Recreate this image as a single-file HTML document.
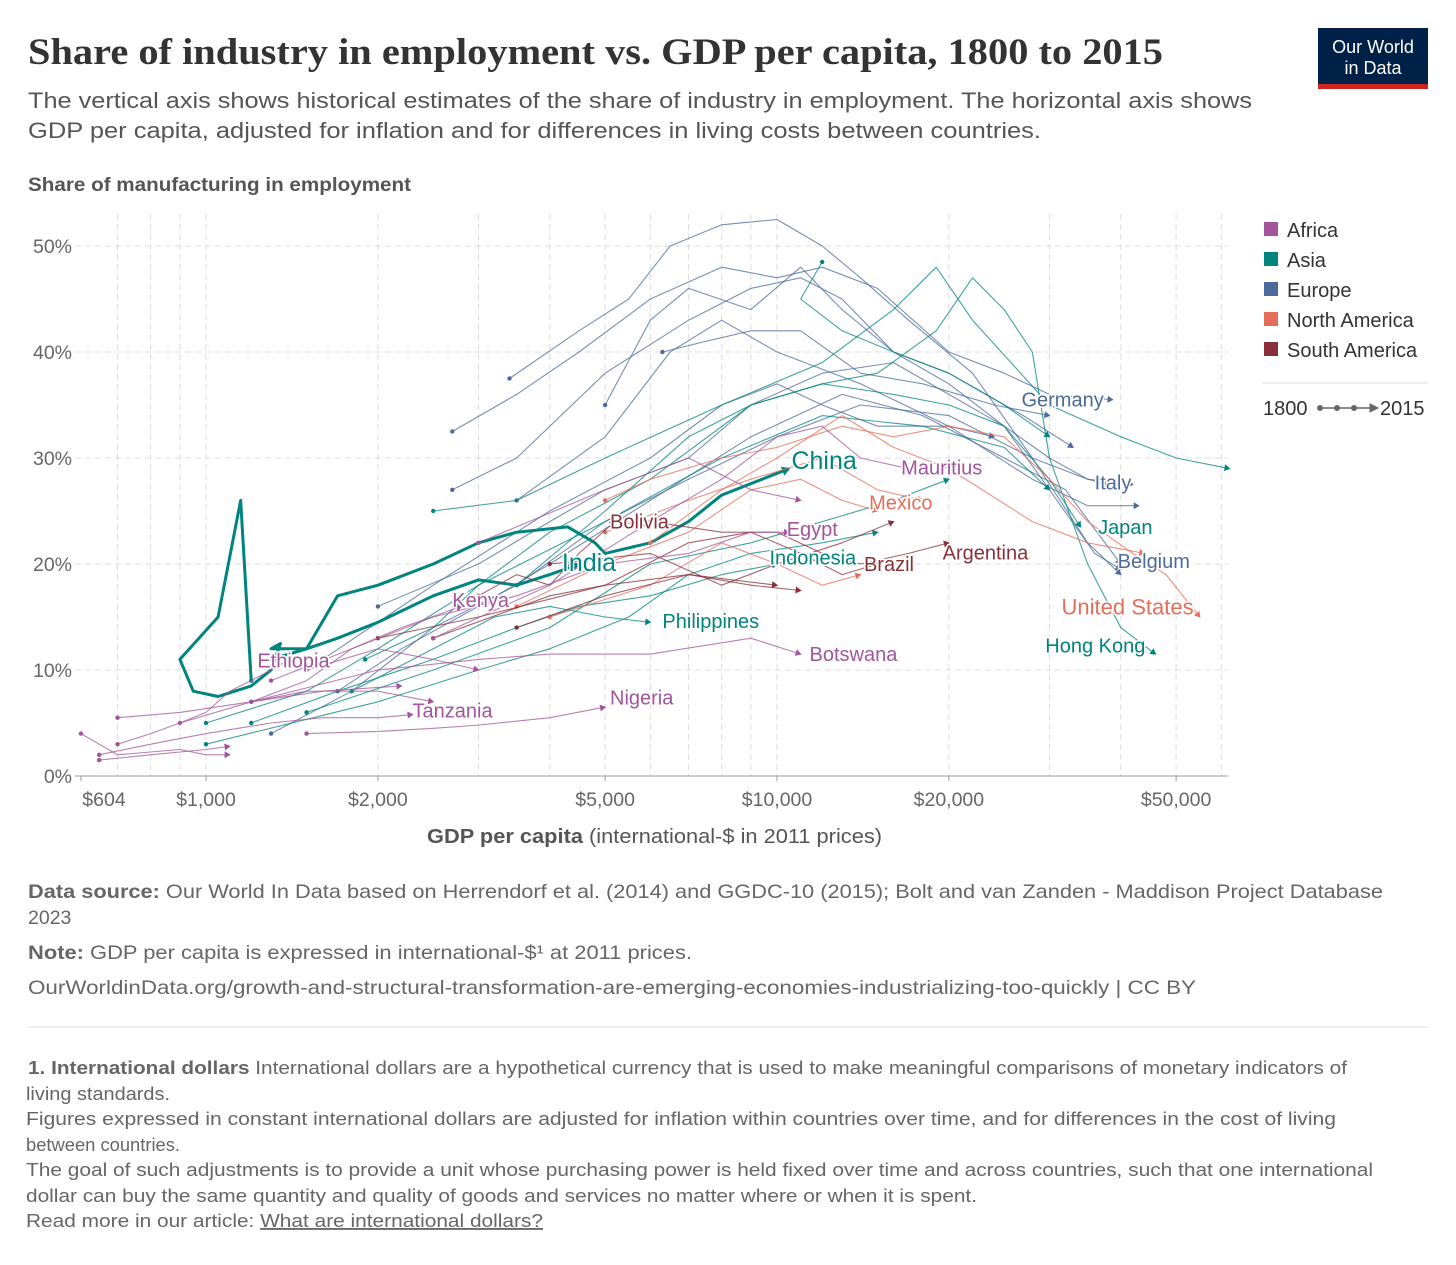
<!DOCTYPE html>
<html><head><meta charset="utf-8">
<style>
body{margin:0;background:#fff;}
svg text{font-family:"Liberation Sans",sans-serif;}
</style></head>
<body>
<svg id="chart" width="1456" height="1260" xmlns="http://www.w3.org/2000/svg">
<text x="28" y="64" font-weight="bold" font-size="37" fill="#333" textLength="1135" lengthAdjust="spacingAndGlyphs" style="font-family:'Liberation Serif',serif">Share of industry in employment vs. GDP per capita, 1800 to 2015</text>
<text x="28" y="108" font-size="22" fill="#555" textLength="1224" lengthAdjust="spacingAndGlyphs">The vertical axis shows historical estimates of the share of industry in employment. The horizontal axis shows</text>
<text x="28" y="138" font-size="22" fill="#555" textLength="1013" lengthAdjust="spacingAndGlyphs">GDP per capita, adjusted for inflation and for differences in living costs between countries.</text>
<g>
<rect x="1318" y="28" width="110" height="61" fill="#002147"/>
<rect x="1318" y="84" width="110" height="5" fill="#ce261e"/>
<text x="1373" y="53" font-size="18" fill="#fff" text-anchor="middle">Our World</text>
<text x="1373" y="74" font-size="18" fill="#fff" text-anchor="middle">in Data</text>
</g>
<text x="28" y="191" font-size="19" font-weight="bold" fill="#555" textLength="383" lengthAdjust="spacingAndGlyphs">Share of manufacturing in employment</text>
<g id="grid"></g>
<g id="series"></g>
<g id="labels"></g>
<g>
<rect x="1264" y="222" width="14" height="14" fill="#a2559c"/><text x="1287" y="237" font-size="20" fill="#333">Africa</text>
<rect x="1264" y="252" width="14" height="14" fill="#00847e"/><text x="1287" y="267" font-size="20" fill="#333">Asia</text>
<rect x="1264" y="282" width="14" height="14" fill="#4c6a9c"/><text x="1287" y="297" font-size="20" fill="#333">Europe</text>
<rect x="1264" y="312" width="14" height="14" fill="#e56e5a"/><text x="1287" y="327" font-size="20" fill="#333">North America</text>
<rect x="1264" y="342" width="14" height="14" fill="#883039"/><text x="1287" y="357" font-size="20" fill="#333">South America</text>
<line x1="1262" y1="383" x2="1428" y2="383" stroke="#ddd"/>
<text x="1263" y="415" font-size="20" fill="#333">1800</text>
<g stroke="#666" fill="#666">
<line x1="1318" y1="408" x2="1372" y2="408" stroke-width="1.5"/>
<circle cx="1320" cy="408" r="2.5"/><circle cx="1337" cy="408" r="2.5"/><circle cx="1354" cy="408" r="2.5"/>
<path d="M1370,404 L1378,408 L1370,412 Z"/>
</g>
<text x="1380" y="415" font-size="20" fill="#333">2015</text>
</g>
<text x="427" y="843" font-size="20" fill="#555" textLength="455" lengthAdjust="spacingAndGlyphs"><tspan font-weight="bold">GDP per capita</tspan> (international-$ in 2011 prices)</text>
<g font-size="19.5" fill="#666">
<text x="28" y="898" textLength="1355" lengthAdjust="spacingAndGlyphs"><tspan font-weight="bold">Data source:</tspan> Our World In Data based on Herrendorf et al. (2014) and GGDC-10 (2015); Bolt and van Zanden - Maddison Project Database</text>
<text x="28" y="924">2023</text>
<text x="28" y="959" textLength="664" lengthAdjust="spacingAndGlyphs"><tspan font-weight="bold">Note:</tspan> GDP per capita is expressed in international-$¹ at 2011 prices.</text>
<text x="28" y="994" textLength="1168" lengthAdjust="spacingAndGlyphs">OurWorldinData.org/growth-and-structural-transformation-are-emerging-economies-industrializing-too-quickly | CC BY</text>
</g>
<line x1="28" y1="1027" x2="1428" y2="1027" stroke="#ddd"/>
<g font-size="18.5" fill="#666">
<text x="28" y="1074" textLength="1319" lengthAdjust="spacingAndGlyphs"><tspan font-weight="bold">1. International dollars</tspan> International dollars are a hypothetical currency that is used to make meaningful comparisons of monetary indicators of</text>
<text x="26" y="1100" textLength="144" lengthAdjust="spacingAndGlyphs">living standards.</text>
<text x="26" y="1125" textLength="1310" lengthAdjust="spacingAndGlyphs">Figures expressed in constant international dollars are adjusted for inflation within countries over time, and for differences in the cost of living</text>
<text x="26" y="1151" textLength="154" lengthAdjust="spacingAndGlyphs">between countries.</text>
<text x="26" y="1176" textLength="1347" lengthAdjust="spacingAndGlyphs">The goal of such adjustments is to provide a unit whose purchasing power is held fixed over time and across countries, such that one international</text>
<text x="26" y="1202" textLength="951" lengthAdjust="spacingAndGlyphs">dollar can buy the same quantity and quality of goods and services no matter where or when it is spent.</text>
<text x="26" y="1227" textLength="517" lengthAdjust="spacingAndGlyphs">Read more in our article: <tspan text-decoration="underline">What are international dollars?</tspan></text>
</g>
</svg>
<script>
const xTicks=[604,1000,2000,5000,10000,20000,50000];
const xTickLabels=["$604","$1,000","$2,000","$5,000","$10,000","$20,000","$50,000"];
const xGrid=[700,800,900,1000,2000,3000,4000,5000,6000,7000,8000,9000,10000,20000,30000,40000,50000,60000];
const yTicks=[0,10,20,30,40,50];
const colors={Africa:"#a2559c",Asia:"#00847e",Europe:"#4c6a9c",NorthAmerica:"#e56e5a",SouthAmerica:"#883039"};
const seriesNames=["Germany","UK","Belgium","Italy","France","Spain","Sweden","Netherlands","Hungary","Denmark",
"Japan","Hong Kong","Singapore","Korea","Malaysia","China","India","Indonesia","Philippines","Thailand","Taiwan",
"United States","Mexico","Canada","Costa Rica","Puerto Rico",
"Argentina","Brazil","Bolivia","Chile","Colombia","Venezuela",
"Ethiopia","Tanzania","Nigeria","Kenya","Botswana","Mauritius","Egypt","South Africa","Ghana","Senegal","Zambia","Malawi","Morocco"];
const seriesRegion=["Europe","Europe","Europe","Europe","Europe","Europe","Europe","Europe","Europe","Europe",
"Asia","Asia","Asia","Asia","Asia","Asia","Asia","Asia","Asia","Asia","Asia",
"NorthAmerica","NorthAmerica","NorthAmerica","NorthAmerica","NorthAmerica",
"SouthAmerica","SouthAmerica","SouthAmerica","SouthAmerica","SouthAmerica","SouthAmerica",
"Africa","Africa","Africa","Africa","Africa","Africa","Africa","Africa","Africa","Africa","Africa","Africa","Africa"];
const seriesGdp=[
[2700,3500,4500,6000,8000,10000,12000,15000,20000,25000,30000,38700],
[3400,4500,5500,6500,8000,10000,12000,14000,17000,22000,28000,35000,40000],
[2700,3500,5000,7000,9000,11000,13000,16000,20000,25000,30000,36000,40000],
[2000,3000,4000,5000,7000,9000,12000,16000,20000,25000,30000,35000,38000],
[3500,5000,6500,8000,10000,14000,20000,28000,35000,43000],
[1700,2200,3000,4000,6000,9000,13000,18000,25000,32000,40000],
[1300,1800,2500,3500,5000,7000,10000,14000,20000,28000,35000,42000],
[5000,6000,7000,9000,11000,13000,16000,20000,27000,33000],
[1600,2500,4000,6000,8000,10000,12000,15000,20000,24000],
[6300,7500,9000,11000,14000,18000,24000,30000],
[1900,2500,3000,4000,6000,9000,12000,16000,20000,25000,30000,34000],
[3500,5000,7000,9000,12000,15000,19000,22000,25000,28000,30000,35000,40000,46000],
[2500,3500,5000,8000,12000,16000,19000,22000,30000,40000,50000,62000],
[1000,1500,2000,3000,5000,8000,12000,18000,25000,30000],
[1500,2500,4000,6000,9000,12000,16000,20000],
[1200,1150,1050,900,950,1050,1200,1300,1350,1300,1500,1700,2000,2500,3000,3500,4300,4800,5000,6000,7000,8000,10500],
[1300,1500,1700,2000,2500,3000,3500,4000,4500],
[1200,1700,2500,3500,4500,6000,8000,10000],
[1800,2500,3200,4000,5000,6000],
[1000,2000,3000,4000,5500,7000,9000,12000,15000],
[12000,11000,13000,16000,20000,25000,30000],
[5000,6000,8000,10000,13000,16000,20000,25000,30000,35000,42000,48000,55000],
[3500,5000,7000,9000,11000,13000,15000],
[6000,8000,10000,13000,16000,20000,28000,35000,44000],
[4000,6000,8000,10000,12000,14000],
[5000,7000,9000,12000,15000,18000],
[6000,8000,10000,12000,14000,17000,20000],
[2000,3000,5000,7000,9000,11000,13000,15000],
[3000,3500,4000,4500,5200],
[4000,6000,8000,10000,13000,16000],
[3500,5000,7000,9000,11000],
[2500,4000,5000,7000,10000],
[700,800,900,1000,1100,1200,1300,1400],
[650,800,1000,1300,1600,2000,2300],
[1500,2000,2500,3000,4000,5000],
[1200,1500,1800,2200,2800],
[1200,2000,3000,4000,6000,9000,11000],
[2500,4000,6000,8000,10000,12000,14000,17000],
[1300,1800,2500,3500,5000,7000,9000,10500],
[3000,5000,7000,9000,11000],
[900,1200,1500,2000,2500],
[604,700,900,1000,1100],
[1500,2000,2500,3000],
[650,800,1000,1100],
[700,900,1200,1600,2200]];
const seriesShare=[
[32.5,36,40,45,48,47,48,46,40,38,36,35.5],
[37.5,42,45,50,52,52.5,50,47,43,38,30,22,19],
[27,30,38,43,46,47,45,40,37,33,27,21,19.5],
[16,20,24,27,30,35,38,39,36,33,30,28,27.5],
[26,32,40,43,40,37,33,28,25.5,25.5],
[8,12,16,20,26,32,36,34,30,27,20],
[4,8,14,18,24,28,32,35,34,30,28,27.5],
[35,43,46,44,48,44,40,38,34,31],
[11,18,25,30,35,37,35,33,33,32],
[40,41,42,42,38,37,35,34],
[11,14,18,23,28,35,37,36,35,33,28,23.5],
[18,25,32,35,37,38,42,47,44,40,30,20,14,11.5],
[25,26,30,35,39,44,48,43,35,32,30,29],
[5,8,12,18,24,30,34,33,31,27],
[6,10,14,20,22,24,26,28],
[9,26,15,11,8,7.5,8.5,10,12.5,12,12,17,18,20,22,23,23.5,22,21,22,24,26.5,29],
[11,12,13,14.5,17,18.5,18,19,20],
[5,8,11,14,16,17,19,20],
[8,12,15,16,15,14.5],
[3,7,10,12,15,19,21,22,23],
[48.5,45,42,40,38,35,32],
[26,28,30,31,33,32,33,32,28,24,21,19,15],
[16,20,23,27,28,26,25],
[22,27,30,34,31,29,24,22,21],
[15,18,22,20,18,19],
[23,26,28,30,27,26],
[24,23,23,21,20,21,22],
[13,15,18,22,23,21,19,20],
[17,19,18,21,24],
[20,21,18,20,22,24],
[14,17,19,18,17.5],
[13,17,18,19,18],
[3,4,5,6,8,9,10,11],
[2,3,4,5,5.5,5.5,5.8],
[4,4.2,4.5,4.8,5.5,6.5],
[7,9,12,14,16],
[7,10,11,11.5,11.5,13,11.5],
[13,18,24,28,32,33,30,29],
[9,12,15,17,20,21,23,23],
[22,27,30,27,26],
[5,7,8,8,7],
[4,2,2.5,2,2],
[10,12,11,10],
[1.5,2,2.5,2.8],
[5.5,6,7,8,8.5]];
const thick=["China","India"];
const labelNames=["China","India","Germany","Italy","Japan","Belgium","United States","Hong Kong","Mauritius","Mexico","Egypt","Bolivia","Argentina","Brazil","Indonesia","Kenya","Philippines","Botswana","Ethiopia","Nigeria","Tanzania"];
const labelRegion=["Asia","Asia","Europe","Europe","Asia","Europe","NorthAmerica","Asia","Africa","NorthAmerica","Africa","SouthAmerica","SouthAmerica","SouthAmerica","Asia","Africa","Asia","Africa","Africa","Africa","Africa"];
const labelGdp=[10600,4200,26800,36000,36500,39500,31500,29500,16500,14500,10400,5100,19500,14200,9700,2700,6300,11400,1230,5100,2300];
const labelShare=[29.6,20.0,35.5,27.7,23.5,20.3,15.9,12.3,29.1,25.8,23.3,24.0,21.1,20.0,20.6,16.6,14.6,11.5,10.9,7.4,6.2];
const labelSize=[25,25,20,20,20,20,22,20,20,20,20,20,20,20,20,20,20,20,20,20,20];

const X0=206,DEC=571,Y0=776,PCT=10.6,XL=75,XR=1228;
const sx=g=>X0+DEC*Math.log10(g/1000);
const sy=s=>Y0-PCT*s;
const NS="http://www.w3.org/2000/svg";
function mk(tag,attrs,parent){const e=document.createElementNS(NS,tag);for(const k in attrs)e.setAttribute(k,attrs[k]);parent.appendChild(e);return e;}
const grid=document.getElementById('grid');
xGrid.forEach(g=>{const l=mk('line',{x1:sx(g),x2:sx(g),y1:214,y2:Y0,stroke:'#ddd','stroke-dasharray':'6,4'},grid);

});
yTicks.forEach(v=>{if(v>0){const l=mk('line',{x1:XL,x2:XR,y1:sy(v),y2:sy(v),stroke:'#ddd','stroke-dasharray':'6,4'},grid);

}
const t=mk('text',{x:72,y:sy(v)+7,'text-anchor':'end','font-size':19.5,fill:'#666'},grid);t.textContent=v+'%';

});
const ax=mk('line',{x1:XL,x2:XR,y1:Y0,y2:Y0,stroke:'#999'},grid);


xTicks.forEach((g,i)=>{mk('line',{x1:sx(g),x2:sx(g),y1:Y0,y2:Y0+5,stroke:'#999'},grid);
const t=mk('text',{x:i==0?104:sx(g),y:806,'text-anchor':'middle','font-size':19.5,fill:'#666'},grid);t.textContent=xTickLabels[i];

});
const sg=document.getElementById('series');
seriesNames.forEach((n,i)=>{
 const c=colors[seriesRegion[i]];const th=thick.includes(n);
 const pts=seriesGdp[i].map((g,j)=>[sx(g),sy(seriesShare[i][j])]);
 const g=mk('g',{},sg);
 
 
 mk('polyline',{points:pts.map(p=>p.join(',')).join(' '),fill:'none',stroke:c,'stroke-width':th?3:1.1,opacity:th?1:0.75,'stroke-linejoin':'round'},g);
 mk('circle',{cx:pts[0][0],cy:pts[0][1],r:2.2,fill:c},g);
 const a=pts[pts.length-1],b=pts[pts.length-2];const ang=Math.atan2(a[1]-b[1],a[0]-b[0])*180/Math.PI;const s=th?7:5;
 mk('path',{d:`M${-s},${-s*0.7} L1,0 L${-s},${s*0.7} Z`,fill:c,transform:`translate(${a[0]},${a[1]}) rotate(${ang})`},g);
});
const lg=document.getElementById('labels');
labelNames.forEach((n,i)=>{
 const t=mk('text',{x:sx(labelGdp[i]),y:sy(labelShare[i])+7,'font-size':labelSize[i],fill:colors[labelRegion[i]],stroke:'#fff','stroke-width':3,'paint-order':'stroke'},lg);
 t.textContent=n;
 
 
});
</script>
</body></html>
